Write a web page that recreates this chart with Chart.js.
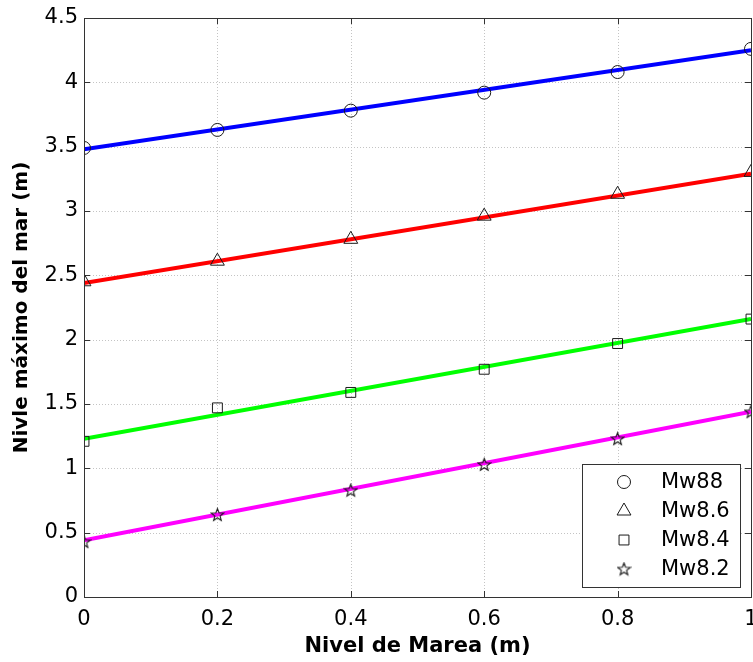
<!DOCTYPE html>
<html><head><meta charset="utf-8">
<script src="https://cdn.jsdelivr.net/npm/chart.js@4.4.0/dist/chart.umd.min.js"></script>
<style>html,body{margin:0;padding:0;background:#fff;}</style>
</head><body>
<canvas id="c" width="753" height="662" style="display:block;width:753px;height:662px"></canvas>
<script>
const xValues = [0, 0.2, 0.4, 0.6, 0.8, 1];
const mw88 = [3.49, 3.63, 3.78, 3.92, 4.08, 4.26];
const mw86 = [2.45, 2.61, 2.78, 2.96, 3.13, 3.30];
const mw84 = [1.21, 1.47, 1.59, 1.77, 1.97, 2.16];
const mw82 = [0.43, 0.64, 0.83, 1.03, 1.23, 1.44];
const fitX = [0, 1];
const fit88 = [3.48, 4.25];
const fit86 = [2.44, 3.29];
const fit84 = [1.23, 2.16];
const fit82 = [0.44, 1.44];
const seriesLabels = ['Mw88', 'Mw8.6', 'Mw8.4', 'Mw8.2'];
const xTicks = [0, 0.2, 0.4, 0.6, 0.8, 1];
const yTicks = [0, 0.5, 1, 1.5, 2, 2.5, 3, 3.5, 4, 4.5];
const xTitle = 'Nivel de Marea (m)';
const yTitle = 'Nivle máximo del mar (m)';

const FONT = "'DejaVu Sans', 'Liberation Sans', Arial, sans-serif";
const MARK = '#1a1a1a';

function makeStar(size) {
  const c = document.createElement('canvas');
  c.width = size; c.height = size;
  const g = c.getContext('2d');
  const cx = size / 2, cy = size / 2 + 0.5, R = size / 2 - 1, r = R * 0.42;
  g.beginPath();
  for (let i = 0; i < 10; i++) {
    const rad = (i % 2 === 0) ? R : r;
    const ang = -Math.PI / 2 + i * Math.PI / 5;
    const px = cx + rad * Math.cos(ang), py = cy + rad * Math.sin(ang);
    if (i === 0) g.moveTo(px, py); else g.lineTo(px, py);
  }
  g.closePath();
  g.strokeStyle = MARK; g.lineWidth = 1.1; g.stroke();
  return c;
}
const starImg = makeStar(15);

const pts = arr => xValues.map((x, i) => ({ x, y: arr[i] }));
const fitPts = arr => fitX.map((x, i) => ({ x, y: arr[i] }));

const markerDefs = [
  { label: seriesLabels[0], data: mw88, style: 'circle', r: 6.5 },
  { label: seriesLabels[1], data: mw86, style: 'triangle', r: 8 },
  { label: seriesLabels[2], data: mw84, style: 'rect', r: 7 },
  { label: seriesLabels[3], data: mw82, style: starImg, r: 7 }
];
const fitDefs = [
  { data: fit88, color: '#0000ff' },
  { data: fit86, color: '#ff0000' },
  { data: fit84, color: '#00ff00' },
  { data: fit82, color: '#ff00ff' }
];

const datasets = [];
markerDefs.forEach(m => datasets.push({
  label: m.label, data: pts(m.data), showLine: false, order: 0,
  pointStyle: m.style, pointRadius: m.r, pointBorderWidth: 1,
  pointBorderColor: MARK, pointBackgroundColor: 'rgba(0,0,0,0)'
}));
fitDefs.forEach(f => datasets.push({
  label: '', data: fitPts(f.data), showLine: true, order: 1,
  borderColor: f.color, borderWidth: 4, pointRadius: 0, fill: false
}));

const framePlugin = {
  id: 'frame',
  beforeDatasetsDraw(chart) {
    const { ctx, chartArea: a, scales: { x, y } } = chart;
    ctx.save();
    ctx.strokeStyle = '#c4c4c4'; ctx.lineWidth = 1; ctx.setLineDash([1, 2]);
    xTicks.forEach(v => {
      const px = Math.round(x.getPixelForValue(v)) + 0.5;
      ctx.beginPath(); ctx.moveTo(px, a.top); ctx.lineTo(px, a.bottom); ctx.stroke();
    });
    yTicks.forEach(v => {
      const py = Math.round(y.getPixelForValue(v)) + 0.5;
      ctx.beginPath(); ctx.moveTo(a.left, py); ctx.lineTo(a.right, py); ctx.stroke();
    });
    ctx.setLineDash([]);
    ctx.strokeStyle = '#333';
    const tl = 6;
    xTicks.forEach(v => {
      const px = Math.round(x.getPixelForValue(v)) + 0.5;
      ctx.beginPath(); ctx.moveTo(px, a.bottom); ctx.lineTo(px, a.bottom - tl);
      ctx.moveTo(px, a.top); ctx.lineTo(px, a.top + tl); ctx.stroke();
    });
    yTicks.forEach(v => {
      const py = Math.round(y.getPixelForValue(v)) + 0.5;
      ctx.beginPath(); ctx.moveTo(a.left, py); ctx.lineTo(a.left + tl, py);
      ctx.moveTo(a.right, py); ctx.lineTo(a.right - tl, py); ctx.stroke();
    });
    ctx.restore();
  },
  afterDatasetsDraw(chart) {
    const { ctx, chartArea: a } = chart;
    ctx.save();
    ctx.strokeStyle = '#333'; ctx.lineWidth = 1;
    ctx.strokeRect(Math.round(a.left) + 0.5, Math.round(a.top) + 0.5,
      Math.round(a.right - a.left), Math.round(a.bottom - a.top));
    // legend
    const bw = 158, bh = 123;
    const bx = Math.round(a.right) - 11 - bw, by = Math.round(a.bottom) - 10 - bh;
    ctx.fillStyle = '#fff';
    ctx.fillRect(bx, by, bw, bh);
    ctx.strokeRect(bx + 0.5, by + 0.5, bw, bh);
    ctx.font = '21px ' + FONT;
    ctx.textBaseline = 'middle';
    ctx.textAlign = 'left';
    markerDefs.forEach((m, i) => {
      const cy = by + 18 + i * 29;
      ctx.fillStyle = 'rgba(0,0,0,0)';
      ctx.strokeStyle = MARK;
      Chart.helpers.drawPoint(ctx, { pointStyle: m.style, radius: m.r, rotation: 0, borderWidth: 1 }, bx + 42, cy);
      ctx.fillStyle = '#000';
      ctx.fillText(m.label, bx + 79, cy + 1);
    });
    ctx.restore();
  }
};

new Chart(document.getElementById('c'), {
  type: 'scatter',
  data: { datasets },
  options: {
    responsive: false, animation: false,
    layout: { autoPadding: false, padding: { top: 18, right: 2, left: 0, bottom: 0 } },
    plugins: { legend: { display: false }, tooltip: { enabled: false } },
    scales: {
      x: {
        type: 'linear', min: 0, max: 1,
        afterBuildTicks: s => { s.ticks = xTicks.map(v => ({ value: v })); },
        afterFit: s => { s.height = 65; s.paddingLeft = 0; s.paddingRight = 0; },
        grid: { display: false, drawTicks: false }, border: { display: false },
        ticks: { font: { family: FONT, size: 21 }, color: '#000', padding: 10, maxRotation: 0, autoSkip: false, callback: v => String(v) },
        title: { display: true, text: xTitle, color: '#000', font: { family: FONT, size: 21, weight: 'bold' }, padding: { top: 0, bottom: 3 } }
      },
      y: {
        type: 'linear', min: 0, max: 4.5,
        afterBuildTicks: s => { s.ticks = yTicks.map(v => ({ value: v })); },
        afterFit: s => { s.width = 84; s.paddingTop = 0; s.paddingBottom = 0; },
        grid: { display: false, drawTicks: false }, border: { display: false },
        ticks: { font: { family: FONT, size: 21 }, color: '#000', padding: 6, autoSkip: false, callback: v => String(v) },
        title: { display: true, text: yTitle, color: '#000', font: { family: FONT, size: 20, weight: 'bold' }, padding: { top: 10, bottom: 0 } }
      }
    }
  },
  plugins: [framePlugin]
});
</script>
</body></html>
